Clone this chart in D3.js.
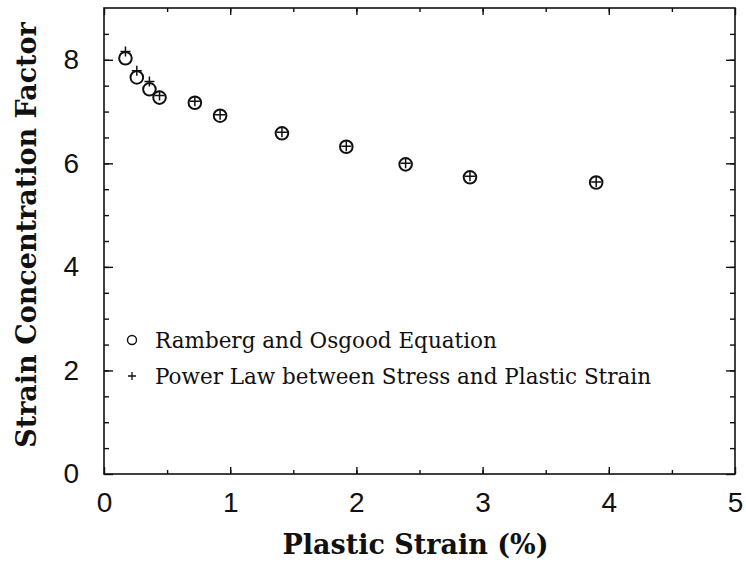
<!DOCTYPE html>
<html>
<head>
<meta charset="utf-8">
<script src="https://cdn.jsdelivr.net/npm/d3@7"></script>
<style>
  html, body { margin: 0; padding: 0; background: #fff; }
  svg { display: block; }
  .tick text { font-family: "Liberation Sans", Arial, sans-serif; font-size: 28px; fill: #111; }
  .axisTitle { font-family: "DejaVu Serif", serif; font-weight: bold; font-size: 27px; fill: #111; }
  .legend text { font-family: "DejaVu Serif", serif; font-size: 21.5px; fill: #111; }
</style>
</head>
<body>
<svg id="chart"></svg>
<script>
// plastic strain (%) at each computed point
const strain = [0.17, 0.26, 0.36, 0.44, 0.72, 0.92, 1.41, 1.92, 2.39, 2.9, 3.9]
// strain concentration factor, Ramberg and Osgood equation (circles)
const rambergOsgood = [8.03, 7.66, 7.43, 7.27, 7.17, 6.92, 6.58, 6.32, 5.98, 5.73, 5.63]
// strain concentration factor, power law (plus marks)
const powerLaw = [8.16, 7.79, 7.58, 7.31, 7.2, 6.94, 6.6, 6.33, 6.0, 5.75, 5.64]

const xMajor = [0, 1, 2, 3, 4, 5]
const yMajor = [0, 2, 4, 6, 8]
const xMinor = d3.range(0.5, 5, 0.5)
const yMinor = d3.range(0.5, 9, 0.5)

const legendLabels = ['Ramberg and Osgood Equation', 'Power Law between Stress and Plastic Strain']

const width = 746, height = 563
const margin = { top: 8, right: 11, bottom: 89, left: 104 }
const innerW = width - margin.left - margin.right,
      innerH = height - margin.top - margin.bottom

const x = d3.scaleLinear().domain([0, 5]).range([0, innerW]),
      y = d3.scaleLinear().domain([0, 9]).range([innerH, 0])

const svg = d3.select('#chart').attr('width', width).attr('height', height)
const g = svg.append('g').attr('transform', `translate(${margin.left},${margin.top})`)

const styleAxis = sel => sel
  .call(sel => sel.select('.domain').remove())
  .call(sel => sel.selectAll('.tick line').attr('stroke', '#111').attr('stroke-width', 1.4))

// minor ticks on all four sides, pointing in
g.append('g').attr('transform', `translate(0,${innerH})`)
  .call(d3.axisBottom(x).tickValues(xMinor).tickSize(-4).tickFormat(''))
  .call(styleAxis)
g.append('g')
  .call(d3.axisTop(x).tickValues(xMinor).tickSize(-4).tickFormat(''))
  .call(styleAxis)
g.append('g')
  .call(d3.axisLeft(y).tickValues(yMinor).tickSize(-5).tickFormat(''))
  .call(styleAxis)
g.append('g').attr('transform', `translate(${innerW},0)`)
  .call(d3.axisRight(y).tickValues(yMinor).tickSize(-5).tickFormat(''))
  .call(styleAxis)

// major ticks, labels on bottom and left
g.append('g').attr('transform', `translate(0,${innerH})`)
  .call(d3.axisBottom(x).tickValues(xMajor).tickSize(-7).tickPadding(18).tickFormat(d3.format('d')))
  .call(styleAxis)
g.append('g')
  .call(d3.axisTop(x).tickValues(xMajor).tickSize(-7).tickFormat(''))
  .call(styleAxis)
g.append('g')
  .call(d3.axisLeft(y).tickValues(yMajor).tickSize(-9).tickPadding(25).tickFormat(d3.format('d')))
  .call(styleAxis)
g.append('g').attr('transform', `translate(${innerW},0)`)
  .call(d3.axisRight(y).tickValues(yMajor).tickSize(-9).tickFormat(''))
  .call(styleAxis)

// frame
g.append('rect')
  .attr('width', innerW).attr('height', innerH)
  .attr('fill', 'none').attr('stroke', '#111').attr('stroke-width', 1.6)

// axis titles
svg.append('text').attr('class', 'axisTitle')
  .attr('x', margin.left + x(2.5) - 4).attr('y', 554)
  .attr('text-anchor', 'middle')
  .text('Plastic Strain (%)')
svg.append('text').attr('class', 'axisTitle')
  .attr('transform', `translate(36,${margin.top + y(4.5) - 6}) rotate(-90)`)
  .attr('text-anchor', 'middle')
  .text('Strain Concentration Factor')

// data
const points = strain.map((s, i) => ({ s, ro: rambergOsgood[i], pl: powerLaw[i] }))
const plus = r => `M${-r},0H${r}M0,${-r}V${r}`

g.selectAll('.ro').data(points)
  .enter().append('circle').attr('class', 'ro')
    .attr('cx', d => x(d.s)).attr('cy', d => y(d.ro))
    .attr('r', 6.3)
    .attr('fill', 'none').attr('stroke', '#111').attr('stroke-width', 2)

g.selectAll('.pl').data(points)
  .enter().append('path').attr('class', 'pl')
    .attr('transform', d => `translate(${x(d.s)},${y(d.pl)})`)
    .attr('d', plus(5))
    .attr('fill', 'none').attr('stroke', '#111').attr('stroke-width', 1.5)

// legend
const legend = svg.append('g').attr('class', 'legend')
const items = legend.selectAll('g').data(legendLabels)
  .enter().append('g')
    .attr('transform', (d, i) => `translate(132,${340 + i * 36})`)
items.filter((d, i) => i === 0).append('circle')
  .attr('r', 4.5).attr('fill', 'none').attr('stroke', '#111').attr('stroke-width', 1.4)
items.filter((d, i) => i === 1).append('path')
  .attr('d', plus(4)).attr('stroke', '#111').attr('stroke-width', 1.3)
items.append('text')
  .attr('x', 23).attr('y', 7.5)
  .text(d => d)
</script>
</body>
</html>
